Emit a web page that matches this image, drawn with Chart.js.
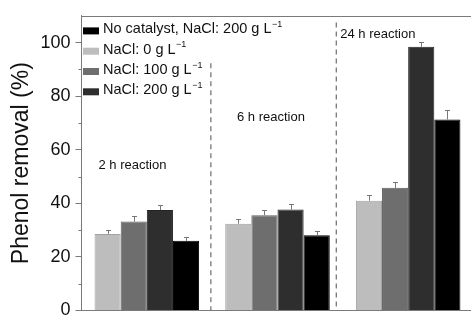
<!DOCTYPE html>
<html>
<head>
<meta charset="utf-8">
<script src="https://cdn.jsdelivr.net/npm/chart.js@4.4.1/dist/chart.umd.min.js"></script>
<style>
  html, body { margin: 0; padding: 0; background: #fff; overflow: hidden; }
  #wrap { width: 480px; height: 316px; }
</style>
</head>
<body>
<div id="wrap"><canvas id="chart"></canvas></div>
<script>
  // reaction time groups
  const groups = ['2 h', '6 h', '24 h'];

  // phenol removal (%) per series
  const nacl0 = [28.6, 32.4, 41.0];
  const nacl100 = [33.2, 35.6, 45.8];
  const nacl200 = [37.5, 37.7, 98.5];
  const noCatalyst = [26.0, 28.1, 71.3];

  // upper error bars
  const errNacl0 = [1.5, 1.7, 2.0];
  const errNacl100 = [1.9, 1.9, 2.2];
  const errNacl200 = [1.8, 2.0, 1.6];
  const errNoCatalyst = [1.4, 1.4, 3.5];

  const seriesLabels = ['NaCl: 0 g L', 'NaCl: 100 g L', 'NaCl: 200 g L', 'No catalyst, NaCl: 200 g L'];
  const labelSup = '\u22121';
  const legendOrder = [3, 0, 1, 2];

  const yTicks = [0, 20, 40, 60, 80, 100];
  const yMinorTicks = [10, 30, 50, 70, 90];

  // dashed separators (x in category units, top in %)
  const dividerX = [0.49, 1.45];
  const dividerTop = [92.3, 107.5];

  // "x h reaction" notes
  const noteText = ['2 h reaction', '6 h reaction', '24 h reaction'];
  const noteX = [-0.37, 0.69, 1.48];
  const noteY = [54.3, 72.0, 103.1];

  const axisColor = '#7a7a7a';
  const textColor = '#111';
  const fontFamily = '"Liberation Sans", Arial, sans-serif';
  Chart.defaults.font.family = fontFamily;

  const errors = [errNacl0, errNacl100, errNacl200, errNoCatalyst];

  const decor = {
    id: 'decor',
    afterDatasetsDraw(chart) {
      const { ctx, chartArea: a, scales: { x, y } } = chart;
      ctx.save();

      // top frame
      ctx.strokeStyle = axisColor;
      ctx.lineWidth = 1;
      ctx.beginPath();
      ctx.moveTo(a.left, Math.round(a.top) + 0.5);
      ctx.lineTo(a.right, Math.round(a.top) + 0.5);
      ctx.stroke();

      // minor ticks
      yMinorTicks.forEach(v => {
        const py = Math.round(y.getPixelForValue(v)) + 0.5;
        ctx.beginPath();
        ctx.moveTo(a.left - 3, py);
        ctx.lineTo(a.left, py);
        ctx.stroke();
      });

      // error bars
      ctx.strokeStyle = '#777';
      chart.data.datasets.forEach((ds, i) => {
        chart.getDatasetMeta(i).data.forEach((bar, j) => {
          const cx = Math.round(bar.x) + 0.5;
          const top = y.getPixelForValue(ds.data[j] + errors[i][j]);
          ctx.beginPath();
          ctx.moveTo(cx, bar.y);
          ctx.lineTo(cx, top);
          ctx.moveTo(cx - 2.5, Math.round(top) + 0.5);
          ctx.lineTo(cx + 2.5, Math.round(top) + 0.5);
          ctx.stroke();
        });
      });

      // dashed dividers
      ctx.strokeStyle = '#777';
      ctx.lineWidth = 1.3;
      ctx.setLineDash([5, 4]);
      dividerX.forEach((v, i) => {
        const px = x.getPixelForValue(v);
        ctx.beginPath();
        ctx.moveTo(px, y.getPixelForValue(dividerTop[i]));
        ctx.lineTo(px, a.bottom);
        ctx.stroke();
      });
      ctx.setLineDash([]);

      // notes
      ctx.fillStyle = textColor;
      ctx.font = '13px ' + fontFamily;
      ctx.textAlign = 'left';
      ctx.textBaseline = 'middle';
      noteText.forEach((t, i) => {
        ctx.fillText(t, x.getPixelForValue(noteX[i]), y.getPixelForValue(noteY[i]));
      });

      // legend
      ctx.textBaseline = 'alphabetic';
      legendOrder.forEach((di, k) => {
        const ds = chart.data.datasets[di];
        const cy = a.top + 15 + k * 20.3;
        ctx.fillStyle = ds.backgroundColor;
        ctx.fillRect(a.left + 1.5, cy - 3.5, 16, 7);
        ctx.fillStyle = textColor;
        ctx.font = '14.5px ' + fontFamily;
        const tx = a.left + 21.5;
        ctx.fillText(ds.label, tx, cy + 2.5);
        const w = ctx.measureText(ds.label).width;
        ctx.font = '9px ' + fontFamily;
        ctx.fillText(labelSup, tx + w + 0.5, cy - 4);
      });

      ctx.restore();
    }
  };

  new Chart(document.getElementById('chart'), {
    type: 'bar',
    data: {
      labels: groups,
      datasets: [
        { label: seriesLabels[0], data: nacl0, backgroundColor: '#bdbdbd', borderColor: '#a2a2a2' },
        { label: seriesLabels[1], data: nacl100, backgroundColor: '#6e6e6e', borderColor: '#5e5e5e' },
        { label: seriesLabels[2], data: nacl200, backgroundColor: '#2e2e2e', borderColor: '#222' },
        { label: seriesLabels[3], data: noCatalyst, backgroundColor: '#000', borderColor: '#000' }
      ]
    },
    options: {
      responsive: true,
      maintainAspectRatio: false,
      animation: false,
      layout: { padding: { left: 0, right: 6.5, top: 15.9, bottom: 5.5 } },
      datasets: {
        bar: { categoryPercentage: 0.8, barPercentage: 1, borderWidth: 1 }
      },
      plugins: {
        legend: { display: false },
        tooltip: { enabled: false }
      },
      scales: {
        x: {
          type: 'category',
          offset: true,
          grid: { display: false, drawTicks: false },
          ticks: { display: false },
          border: { color: axisColor, width: 1 }
        },
        y: {
          min: 0,
          max: 110,
          afterFit(scale) {
            scale.width = 81.5;
            scale.paddingTop = 0;
            scale.paddingBottom = 0;
          },
          afterBuildTicks(scale) { scale.ticks = yTicks.map(v => ({ value: v })); },
          ticks: { color: textColor, font: { size: 18 }, padding: 5 },
          grid: { drawOnChartArea: false, drawTicks: true, tickLength: 6, tickColor: axisColor },
          border: { color: axisColor, width: 1 },
          title: {
            display: true,
            text: 'Phenol removal (%)',
            color: textColor,
            font: { size: 23 },
            padding: { top: 8, bottom: 0 }
          }
        }
      }
    },
    plugins: [decor]
  });
</script>
</body>
</html>
